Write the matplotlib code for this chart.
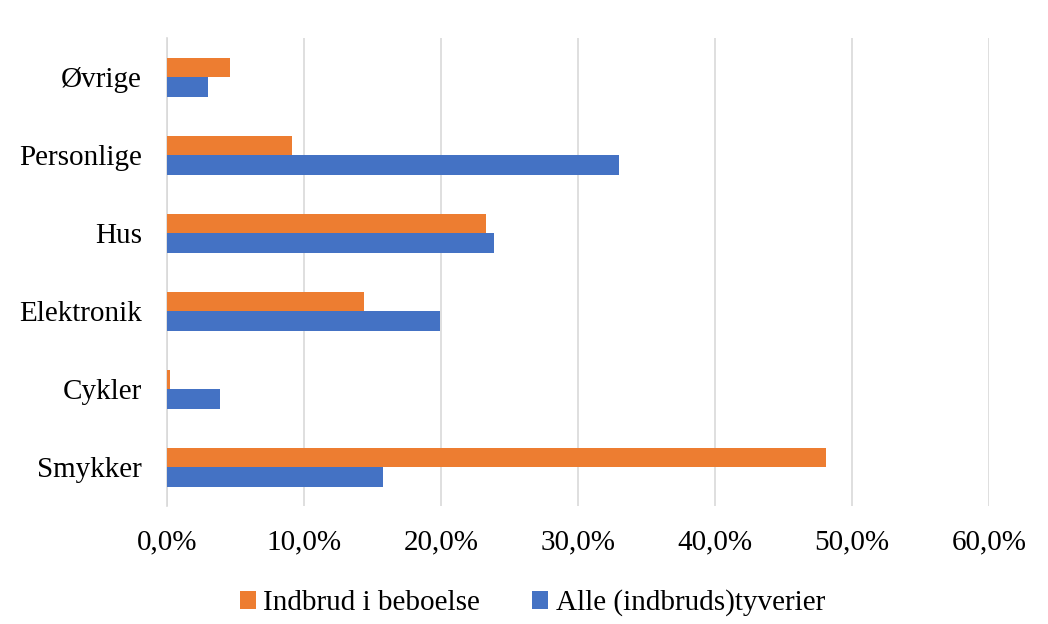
import matplotlib.pyplot as plt
import numpy as np
from matplotlib.ticker import FuncFormatter

categories = ["Smykker", "Cykler", "Elektronik", "Hus", "Personlige", "Øvrige"]
indbrud = [48.1, 0.2, 14.4, 23.3, 9.1, 4.6]
alle = [15.8, 3.9, 19.9, 23.9, 33.0, 3.0]
x_ticks = [0, 10, 20, 30, 40, 50, 60]

plt.rcParams["font.family"] = ["Liberation Serif", "DejaVu Serif"]

fig = plt.figure(figsize=(10.48, 6.24), dpi=100)
ax = fig.add_axes([0.1594, 0.189, 0.9437 - 0.1594, 0.939 - 0.189])

y = np.arange(len(categories))
h = 0.25
ax.barh(y + h / 2, indbrud, height=h, color="#ED7D31", label="Indbrud i beboelse", zorder=3)
ax.barh(y - h / 2, alle, height=h, color="#4472C4", label="Alle (indbruds)tyverier", zorder=3)

ax.set_xlim(0, 60)
ax.set_ylim(-0.5, len(categories) - 0.5)
ax.set_xticks(x_ticks)
ax.xaxis.set_major_formatter(FuncFormatter(lambda v, p: f"{v:.1f}%".replace(".", ",")))
ax.set_yticks(y)
ax.set_yticklabels(categories)
ax.tick_params(axis="both", length=0, labelsize=21, colors="black")
ax.tick_params(axis="x", pad=17)
ax.tick_params(axis="y", pad=18)
ax.grid(axis="x", color="#d9d9d9", linewidth=1.2, zorder=0)
for side in ["top", "right", "bottom"]:
    ax.spines[side].set_visible(False)
ax.spines["left"].set_color("#d9d9d9")
ax.spines["left"].set_linewidth(1.2)

fig.legend(loc="lower center", bbox_to_anchor=(0.508, -0.03), ncol=2, frameon=False,
           fontsize=21, handlelength=0.55, handleheight=0.55, handletextpad=0.25,
           columnspacing=1.8)

fig.savefig("out.png", dpi=100)
